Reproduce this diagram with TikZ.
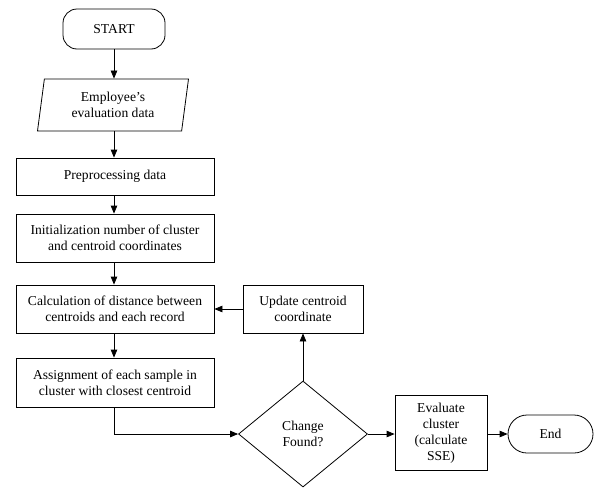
\documentclass[tikz,border=0pt]{standalone}
\usepackage{fontspec}
\setmainfont{Liberation Serif}
\usetikzlibrary{shapes.geometric,arrows.meta}

\begin{document}
\begin{tikzpicture}[x=1pt, y=-1pt, line width=0.8pt,
	>={Triangle[length=8pt,width=6.5pt]},
	every node/.style={font=\fontsize{13.6}{16}\selectfont, align=center, inner sep=1pt},
	procbox/.style={draw, rectangle, minimum width=198pt},
	termbox/.style={draw, rectangle, rounded corners=14pt, minimum height=39pt},
	databox/.style={draw, trapezium, trapezium left angle=76, trapezium right angle=104, trapezium stretches body, minimum width=151pt, minimum height=52pt},
	decbox/.style={draw, diamond, minimum width=129pt, minimum height=106pt, inner sep=0pt}]
	%\draw[help lines] (0,0) grid[step=50pt] (601,498);
	\useasboundingbox (0,0) rectangle (601,498);
	\node[termbox, minimum width=102pt, minimum height=40pt] (start) at (114,29) {START};
	\node[databox] (input) at (113,105) {Employee’s\\evaluation data};
	\node[procbox, minimum height=37pt] (prep) at (115,176.5) {Preprocessing data};
	\node[procbox, minimum height=48pt] (init) at (115,238) {Initialization number of cluster\\and centroid coordinates};
	\node[procbox, minimum height=48pt] (calc) at (115,309) {Calculation of distance between\\centroids and each record};
	\node[procbox, minimum height=49pt] (assign) at (115,382.5) {Assignment of each sample in\\cluster with closest centroid};
	\node[draw, rectangle, minimum width=120pt, minimum height=48pt] (update) at (303,309) {Update centroid\\coordinate};
	\node[decbox] (change) at (303,434) {Change\\Found?};
	\node[draw, rectangle, minimum width=92pt, minimum height=75pt] (eval) at (441,433) {Evaluate\\cluster\\(calculate\\SSE)};
	\node[termbox, rounded corners=19pt, minimum width=85pt, minimum height=38pt] (end) at (550.5,434) {End};
	\draw[->] (start.south) -- (start.south |- input.north);
	\draw[->] (input.south -| start.south) -- (start.south |- prep.north);
	\draw[->] (prep.south -| start.south) -- (start.south |- init.north);
	\draw[->] (init.south -| start.south) -- (start.south |- calc.north);
	\draw[->] (calc.south -| start.south) -- (start.south |- assign.north);
	\draw[->] (assign.south -| start.south) |- (change.west);
	\draw[->] (change.north) -- (update.south);
	\draw[->] (update.west) -- (update.west -| calc.east);
	\draw[->] (change.east) -- (change.east -| eval.west);
	\draw[->] (eval.east |- end.west) -- (end.west);
\end{tikzpicture}
\end{document}
